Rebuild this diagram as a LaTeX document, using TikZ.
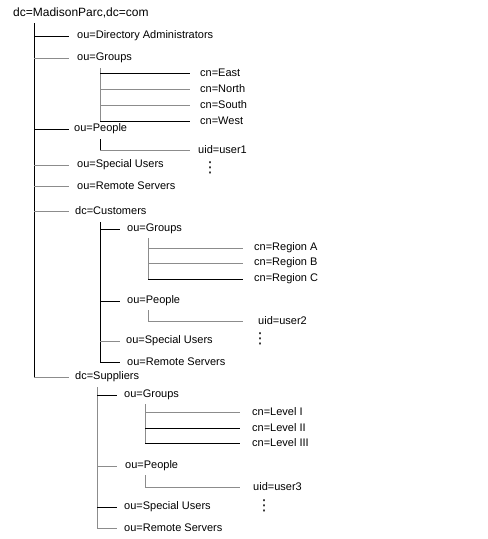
\documentclass[tikz,border=0pt]{standalone}
\usepackage{fontspec}
\setmainfont{Liberation Sans}
\newfontfamily\symfont{DejaVu Sans}
\usetikzlibrary{positioning}

\begin{document}
\begin{tikzpicture}[
    x=1pt, y=-1pt,
    font=\fontsize{11}{13}\selectfont,
    entry/.style={anchor=west, inner xsep=#1, inner ysep=1pt},
    entry/.default=7pt,
    link/.style={draw=black, line width=0.8pt},
    faint/.style={draw=black!45, line width=0.8pt},
    more/.style={inner sep=0pt, font=\symfont\fontsize{15}{15}\selectfont}
]
    \useasboundingbox (0,0) rectangle (488,539);

    % directory root and first level
    \node[entry=0pt, font=\fontsize{12}{14}\selectfont] (root) at (13,13) {dc=MadisonParc,dc=com};
    \coordinate (rootT) at (34,23);
    \node[entry=8pt] (diradm) at (69,36) {ou=Directory Administrators};
    \node[entry=8pt] (groups) at (69,58) {ou=Groups};
    \node[entry=5pt] (people) at (69,129) {ou=People};
    \node[entry=8pt] (special) at (69,165) {ou=Special Users};
    \node[entry=8pt] (remote) at (69,186) {ou=Remote Servers};
    \node[entry=6pt] (cust) at (69,211) {dc=Customers};
    \node[entry=6pt] (supp) at (69,377) {dc=Suppliers};

    % groups and people of the root
    \coordinate (grpT) at (100,68);
    \node[entry=10pt] (cneast) at (190,73) {cn=East};
    \node[entry=10pt] (cnnorth) at (190,89) {cn=North};
    \node[entry=10pt] (cnsouth) at (190,105) {cn=South};
    \node[entry=10pt] (cnwest) at (190,121) {cn=West};
    \coordinate (pplT) at (100,139);
    \node[entry=8pt] (user1) at (190,150) {uid=user1};
    \node[more] (dots1) at (210,168) {⋮};

    % customers
    \coordinate (custT) at (100,222);
    \node[entry] (custgrp) at (120,229) {ou=Groups};
    \node[entry] (custppl) at (120,301) {ou=People};
    \node[entry=6pt] (custspc) at (120,341) {ou=Special Users};
    \node[entry] (custrmt) at (120,362) {ou=Remote Servers};
    \coordinate (cgrpT) at (148,238);
    \node[entry=11pt] (regiona) at (243,248) {cn=Region A};
    \node[entry=11pt] (regionb) at (243,263) {cn=Region B};
    \node[entry=11pt] (regionc) at (243,279) {cn=Region C};
    \coordinate (cpplT) at (148,310);
    \node[entry=15pt] (user2) at (243,321) {uid=user2};
    \node[more] (dots2) at (260,339) {⋮};

    % suppliers
    \coordinate (suppT) at (97,387);
    \node[entry] (suppgrp) at (117,395) {ou=Groups};
    \node[entry=8pt] (suppppl) at (117,466) {ou=People};
    \node[entry] (suppspc) at (117,507) {ou=Special Users};
    \node[entry] (supprmt) at (117,528) {ou=Remote Servers};
    \coordinate (sgrpT) at (145,404);
    \node[entry=12pt] (leveli) at (240,412) {cn=Level I};
    \node[entry=12pt] (levelii) at (240,428) {cn=Level II};
    \node[entry=12pt] (leveliii) at (240,443) {cn=Level III};
    \coordinate (spplT) at (145,475);
    \node[entry=13pt] (user3) at (240,487) {uid=user3};
    \node[more] (dots3) at (264,506) {⋮};

    % root branches
    \draw[link] (rootT) -- (rootT |- supp.west);
    \draw[link] (rootT |- diradm.west) -- (diradm.west);
    \draw[faint] (rootT |- groups.west) -- (groups.west);
    \draw[link] (rootT |- people.west) -- (people.west);
    \draw[faint] (rootT |- special.west) -- (special.west);
    \draw[faint] (rootT |- remote.west) -- (remote.west);
    \draw[faint] (rootT |- cust.west) -- (cust.west);
    \draw[faint] (rootT |- supp.west) -- (supp.west);

    \draw[faint] (grpT) -- (grpT |- cnwest.west);
    \draw[link] (grpT |- cneast.west) -- (cneast.west);
    \draw[faint] (grpT |- cnnorth.west) -- (cnnorth.west);
    \draw[faint] (grpT |- cnsouth.west) -- (cnsouth.west);
    \draw[link] (grpT |- cnwest.west) -- (cnwest.west);
    \draw[link] (pplT) -- (pplT |- user1.west);
    \draw[faint] (pplT |- user1.west) -- (user1.west);

    % customer branches
    \draw[link] (custT) -- (custT |- custrmt.west);
    \draw[link] (custT |- custgrp.west) -- (custgrp.west);
    \draw[link] (custT |- custppl.west) -- (custppl.west);
    \draw[faint] (custT |- custspc.west) -- (custspc.west);
    \draw[link] (custT |- custrmt.west) -- (custrmt.west);
    \draw[faint] (cgrpT) -- (cgrpT |- regionc.west);
    \draw[faint] (cgrpT |- regiona.west) -- (regiona.west);
    \draw[faint] (cgrpT |- regionb.west) -- (regionb.west);
    \draw[link] (cgrpT |- regionc.west) -- (regionc.west);
    \draw[faint] (cpplT) -- (cpplT |- user2.west) -- (user2.west);

    % supplier branches
    \draw[faint] (suppT) -- (suppT |- supprmt.west);
    \draw[link] (suppT |- suppgrp.west) -- (suppgrp.west);
    \draw[faint] (suppT |- suppppl.west) -- (suppppl.west);
    \draw[link] (suppT |- suppspc.west) -- (suppspc.west);
    \draw[faint] (suppT |- supprmt.west) -- (supprmt.west);
    \draw[faint] (sgrpT) -- (sgrpT |- leveliii.west);
    \draw[faint] (sgrpT |- leveli.west) -- (leveli.west);
    \draw[link] (sgrpT |- levelii.west) -- (levelii.west);
    \draw[link] (sgrpT |- leveliii.west) -- (leveliii.west);
    \draw[faint] (spplT) -- (spplT |- user3.west) -- (user3.west);
\end{tikzpicture}
\end{document}
